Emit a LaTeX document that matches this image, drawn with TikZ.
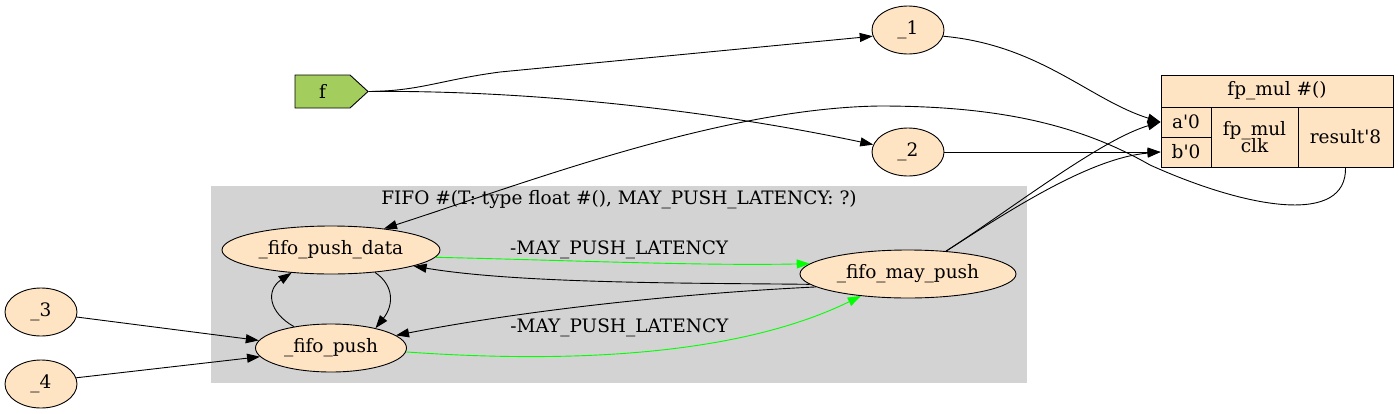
\documentclass[tikz,border=0pt]{standalone}
\usepackage{fontspec}
\setmainfont{DejaVu Serif}
\usetikzlibrary{arrows.meta,shapes.geometric,shapes.symbols}
\definecolor{bisque}{RGB}{255,228,196}
\definecolor{portgreen}{RGB}{163,206,94}
\definecolor{clustergray}{RGB}{211,211,211}

\begin{document}
\begin{tikzpicture}[x=1pt, y=-1pt,
    every node/.style={font=\fontsize{18.5}{21}\selectfont, inner sep=0pt},
    oval/.style={ellipse, draw, fill=bisque, minimum height=48, line width=0.9pt},
    cell/.style={rectangle, draw, fill=bisque, line width=0.9pt, align=center},
    edge/.style={-{Triangle[length=13pt,width=9pt]}, line width=0.9pt},
    latency/.style={edge, green}]
    \useasboundingbox (0,0) rectangle (1398,413);

    % cluster
    \fill[clustergray] (211,186) rectangle (1027,383);
    \node (fifolabel) at (619,200) {FIFO \#(T: type float \#(), MAY\_PUSH\_LATENCY: ?)};

    % nodes
    \node[signal, signal to=east, signal pointer angle=85, draw, fill=portgreen,
        line width=0.9pt, minimum width=73, minimum height=33] (f) at (322.5,91.5) {f};
    \node[oval, minimum width=72] (n1) at (908,30) {\_1};
    \node[oval, minimum width=72] (n2) at (908,152) {\_2};
    \node[oval, minimum width=72] (n3) at (41,312) {\_3};
    \node[oval, minimum width=72] (n4) at (41,384) {\_4};
    \node[oval, minimum width=218] (pushdata) at (331,250) {\_fifo\_push\_data};
    \node[oval, minimum width=151] (push) at (331,348) {\_fifo\_push};
    \node[oval, minimum width=216] (maypush) at (908,274) {\_fifo\_may\_push};

    % fp_mul record
    \node[cell, minimum width=232, minimum height=32] (fpmul) at (1277,91) {fp\_mul \#()};
    \node[cell, minimum width=50, minimum height=30] (a0) at (1186,122) {a\textquotesingle 0};
    \node[cell, minimum width=50, minimum height=30] (b0) at (1186,152) {b\textquotesingle 0};
    \node[cell, minimum width=87, minimum height=60] (core) at (1254.5,137) {fp\_mul\\[-4pt]clk};
    \node[cell, minimum width=95, minimum height=60] (res) at (1345.5,137) {result\textquotesingle 8};

    % edges
    \draw[edge] (f.east) .. controls (420,91) and (440,80) .. (500,72) -- (n1.190);
    \draw[edge] (f.east) .. controls (520,90) and (700,108) .. (n2.168);
    \draw[edge] (n1.-10) .. controls (1040,45) and (1090,100) .. (a0.west);
    \draw[edge] (n2.east) -- (b0.west);
    \draw[edge] (res.south) .. controls (1347,225) and (1250,210) .. (1150,165)
        .. controls (1080,125) and (1000,106) .. (880,106)
        .. controls (720,108) and (520,185) .. (pushdata.22);
    \draw[edge] (maypush.31) .. controls (1010,210) and (1100,140) .. (a0.west);
    \draw[edge] (maypush.31) .. controls (1010,210) and (1090,158) .. (b0.west);
    \draw[latency] (pushdata.-4) .. controls (560,260) and (700,266) .. (maypush.174)
        node[pos=0.5, above=3pt, xshift=-9pt, text=black] (lat1) {-MAY\_PUSH\_LATENCY};
    \draw[edge] (maypush.186) .. controls (700,283) and (520,284) .. (pushdata.-11);
    \draw[edge] (maypush.188) .. controls (650,295) and (500,315) .. (push.11);
    \draw[latency] (push.-3) .. controls (520,360) and (720,365) .. (maypush.-155)
        node[pos=0.5, above=16pt, xshift=-4pt, text=black] (lat2) {-MAY\_PUSH\_LATENCY};
    \draw[edge] (push.150) .. controls (268,312) and (266,290) .. (pushdata.-150);
    \draw[edge] (pushdata.-27) .. controls (394,285) and (394,305) .. (push.24);
    \draw[edge] (n3.-8) -- (push.174);
    \draw[edge] (n4.10) -- (push.187);
\end{tikzpicture}
\end{document}
